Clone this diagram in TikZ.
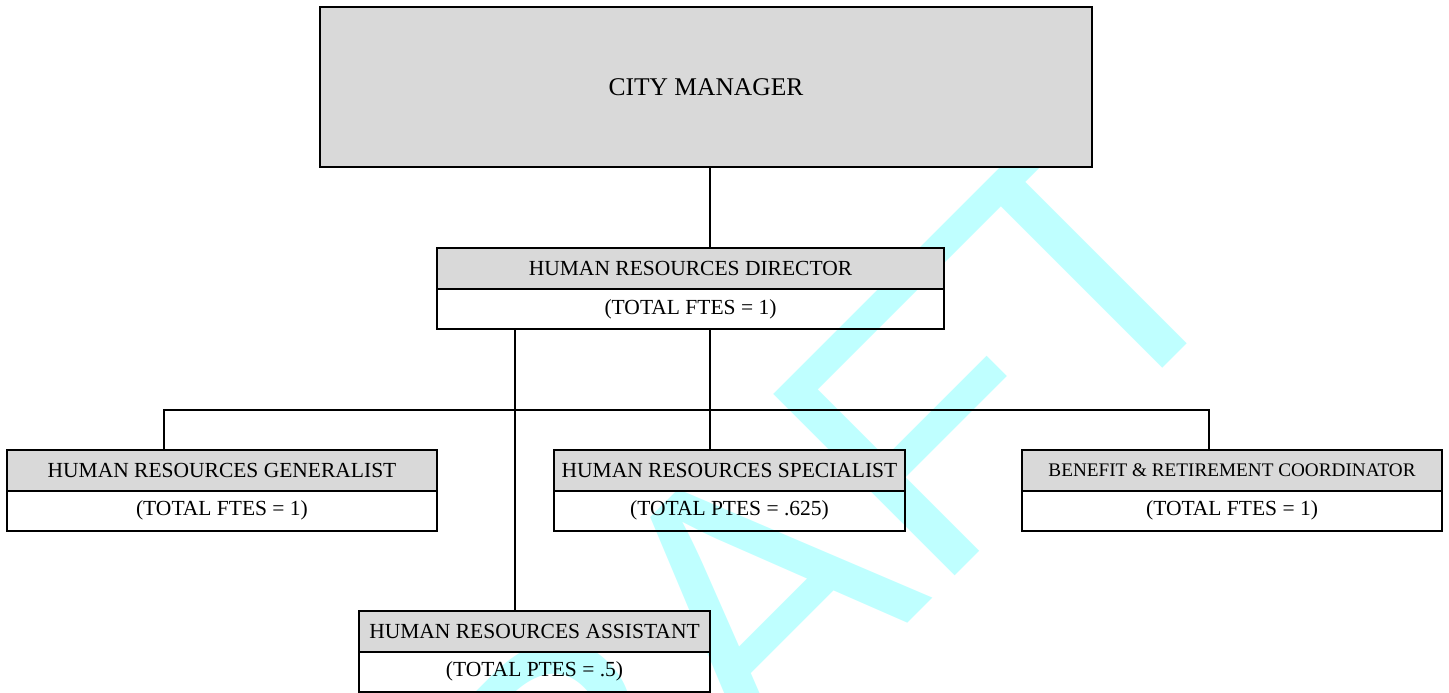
\documentclass[tikz,border=0pt]{standalone}
\usepackage{fontspec}
\setmainfont{Liberation Serif}
\newfontfamily\draftfont{Liberation Sans}
\usetikzlibrary{positioning}
\definecolor{hdrgray}{RGB}{217,217,217}
\definecolor{draftcyan}{RGB}{191,255,255}

\begin{document}
\begin{tikzpicture}[
    x=0.5pt, y=-0.5pt,
    node distance=0pt,
    head/.style={rectangle,draw,line width=1.2pt,fill=hdrgray,minimum height=20.5pt,inner sep=0pt,outer sep=0pt,font=\fontsize{10.75}{12}\selectfont},
    body/.style={rectangle,draw,line width=1.2pt,minimum height=20pt,inner sep=0pt,outer sep=0pt,font=\fontsize{10.75}{12}\selectfont},
    link/.style={line width=0.9pt},
    wmark/.style={rotate=45,anchor=base west,inner sep=0pt,text=draftcyan,font=\draftfont\fontsize{186.5}{190}\selectfont}]
    \useasboundingbox (0,0) rectangle (1449,692);
    % watermark behind the chart
    \begin{scope}
      \clip (0,0) rectangle (1449,692);
      \node[wmark] (draft) at (376.6,1154.4) {DRAFT};
    \end{scope}
    \node[head,minimum width=386pt,minimum height=80pt,font=\fontsize{12.75}{15}\selectfont] (cm) at (706,87) {CITY MANAGER};
    \node[head,minimum width=253.5pt] (dirh) at (690.5,268.5) {HUMAN RESOURCES DIRECTOR};
    \node[body,minimum width=253.5pt,below=of dirh] (dirb) {(TOTAL FTES = 1)};
    \node[head,minimum width=215pt] (genh) at (222,470.25) {HUMAN RESOURCES GENERALIST};
    \node[body,minimum width=215pt,below=of genh] (genb) {(TOTAL FTES = 1)};
    \node[head,minimum width=175.5pt] (spech) at (729.5,470.25) {HUMAN RESOURCES SPECIALIST};
    \node[body,minimum width=175.5pt,below=of spech] (specb) {(TOTAL PTES = .625)};
    \node[head,minimum width=210pt,font=\fontsize{9.6}{11}\selectfont] (benh) at (1232,470.25) {BENEFIT \& RETIREMENT COORDINATOR};
    \node[body,minimum width=210pt,below=of benh] (benb) {(TOTAL FTES = 1)};
    \node[head,minimum width=175.5pt] (assh) at (534.5,631.25) {HUMAN RESOURCES ASSISTANT};
    \node[body,minimum width=175.5pt,below=of assh] (assb) {(TOTAL PTES = .5)};
    % drop points
    \coordinate (jS) at (710,410);
    \coordinate (jG) at (164,410);
    \coordinate (jB) at (1209,410);
    \coordinate (jA) at (515,410);
    \draw[link] (cm.south -| jS) -- (dirh.north -| jS);
    \draw[link] (dirb.south -| jS) -- (spech.north -| jS);
    \draw[link] (genh.north -| jG) -- (jG) -- (jB) -- (benh.north -| jB);
    \draw[link] (dirb.south -| jA) -- (assh.north -| jA);
\end{tikzpicture}
\end{document}
